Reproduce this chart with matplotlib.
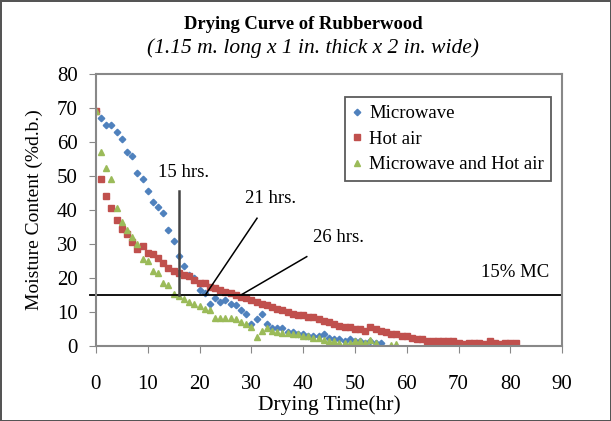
import matplotlib
matplotlib.use("Agg")
import matplotlib.pyplot as plt

# Microwave
mw_x = list(range(0, 56))
mw_y = [69, 67, 65, 65, 63, 61, 57, 56, 51, 49,
        45.5, 42.5, 41, 39, 34, 31, 26.5, 23.5, 21, 20,
        16.5, 15.5, 12.5, 14, 13, 13.5, 12.5, 12, 10.5, 9.3,
        6.5, 8, 9.3, 6.5, 5.2, 5.2, 5.2, 4, 4, 3.5,
        3.5, 3, 3, 3, 3.5, 2.5, 2, 2, 1.5, 2,
        1.5, 1.5, 1, 1.5, 1, 1]

# Hot air
ha_x = list(range(0, 82))
ha_y = [69, 49, 44, 40.5, 37, 34.5, 33, 30.5, 28.5, 29.5,
        27.5, 27, 26, 24.5, 23, 22, 21.5, 21, 20.5, 19.5,
        18.5, 18.5, 17.5, 17, 16.5, 16, 15.5, 15, 14.5, 14,
        13.5, 13, 12.5, 12, 11.5, 11, 10.5, 10, 9.5, 9,
        9, 8.5, 8.5, 8, 7.5, 7, 6.5, 6, 5.5, 5.5,
        5, 5, 4.5, 5.5, 5, 4.5, 4, 3.5, 3.5, 3,
        3, 2.5, 2, 2, 1.5, 1.5, 1.5, 1.5, 1.5, 1.5,
        1, 0.5, 1, 1, 1, 0.5, 1.5, 1, 0.5, 1,
        1, 1]

# Microwave and hot air
mh_x = list(range(0, 55)) + [57, 58]
mh_y = [69, 57, 52.5, 49, 40.5, 36.5, 34, 32, 30, 25.5,
        25, 22, 21.5, 18.5, 18, 15.2, 14.8, 13.7, 13, 12.5,
        11.8, 11, 10.5, 8.2, 8.2, 8.2, 8.2, 8, 7, 6.5,
        5.5, 2.8, 4.5, 5.2, 4.5, 4, 3.7, 3.7, 3.5, 3.5,
        3, 3, 2.5, 2.5, 1.8, 1.5, 1.5, 1, 0.8, 1,
        1.5, 1.5, 1, 1.8, 1, 0.3, 0.5]

plt.rcParams['font.family'] = ['Liberation Serif', 'DejaVu Serif']

fig = plt.figure(figsize=(6.11, 4.21), dpi=100)
fig.patch.set_edgecolor('#555555')
fig.patch.set_linewidth(2)
ax = fig.add_axes([0.157, 0.178, 0.763, 0.646])

ax.plot(mw_x, mw_y, 'D', color='#4F81BD', ms=3.3, ls='none', label='Microwave')
ax.plot(ha_x, ha_y, 's', color='#C0504D', ms=4.3, ls='none', label='Hot air')
ax.plot(mh_x, mh_y, '^', color='#9BBB59', ms=4.6, ls='none', label='Microwave and Hot air')

ax.set_xlim(0, 90)
ax.set_ylim(0, 80)
ax.set_xticks(range(0, 91, 10))
ax.set_yticks(range(0, 81, 10))
ax.tick_params(labelsize=15, direction='out', length=5, color='#888888')
ax.tick_params(axis='y', pad=8)
ax.tick_params(axis='x', pad=16)
for s in ax.spines.values():
    s.set_color('#888888')
    s.set_linewidth(1.5)

# 15% MC line and annotations
ax.axhline(15, xmin=-0.013, xmax=1, color='black', lw=1.3, clip_on=False)
ax.text(87.5, 19, '15% MC', ha='right', va='bottom', fontsize=13.5)
ax.plot([16, 16], [15, 45.5], color='#444444', lw=1.8)
ax.text(17, 51, '15 hrs.', ha='center', va='center', fontsize=13.5)
ax.plot([21.2, 31.1], [15.2, 37.6], color='black', lw=1.1)
ax.text(33.8, 43.5, '21 hrs.', ha='center', va='center', fontsize=13.5)
ax.plot([28.2, 40.7], [15.2, 26.3], color='black', lw=1.1)
ax.text(46.8, 32, '26 hrs.', ha='center', va='center', fontsize=13.5)

leg = ax.legend(loc='upper left', bbox_to_anchor=(0.534, 0.914), fontsize=13.5,
                frameon=True, fancybox=False, edgecolor='#333333',
                handlelength=0.5, handletextpad=0.4, borderpad=0.4,
                labelspacing=0.45, borderaxespad=0)
leg.get_frame().set_linewidth(1.3)

ax.set_xlabel('Drying Time(hr)', fontsize=15.5, labelpad=1)
ax.set_ylabel('Moisture Content (%d.b.)', fontsize=14, labelpad=10)
fig.text(0.496, 0.942, 'Drying Curve of Rubberwood', ha='center', va='center',
         fontsize=13.4, fontweight='bold')
fig.text(0.512, 0.886, '(1.15 m. long x 1 in. thick x 2 in. wide)', ha='center',
         va='center', fontsize=15.5, style='italic')

fig.savefig('out.png', dpi=100, edgecolor=fig.get_edgecolor())
